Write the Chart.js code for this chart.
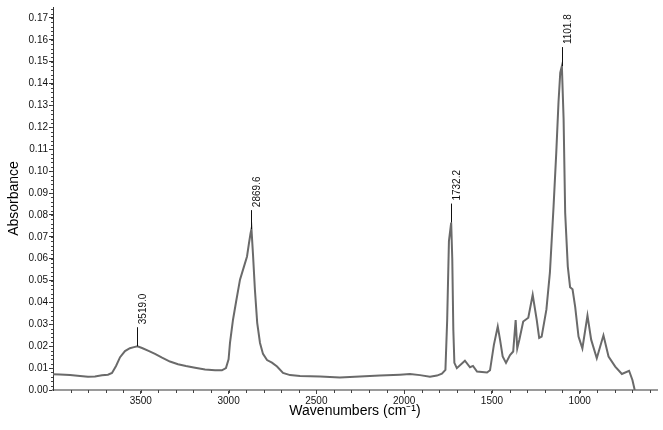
<!DOCTYPE html>
<html>
<head>
<meta charset="utf-8">
<script src="https://cdn.jsdelivr.net/npm/chart.js@4"></script>
<style>
  html, body { margin: 0; padding: 0; background: #fff; }
</style>
</head>
<body>
<canvas id="irChart" width="663" height="430"></canvas>
<script>
// FTIR spectrum, values
const wavenumbers = [
  4000, 3960, 3903, 3846, 3801, 3761, 3721, 3687, 3664, 3641, 3618, 3590, 3562,
  3539, 3519.0, 3493, 3459, 3419, 3379, 3334, 3288, 3243, 3191, 3134, 3077, 3038,
  3015, 3000, 2992, 2975, 2958, 2935, 2912, 2895, 2884, 2875, 2869.6, 2861, 2850,
  2837, 2821, 2804, 2781, 2753, 2724, 2690, 2650, 2593, 2479, 2366, 2252, 2138,
  2024, 1967, 1910, 1853, 1813, 1785, 1765, 1755, 1745, 1732.2, 1726, 1720, 1714,
  1700, 1654, 1625, 1608, 1585, 1528, 1511, 1489, 1467, 1454, 1439, 1420, 1397,
  1379, 1365, 1356, 1344, 1322, 1293, 1268, 1245, 1231, 1217, 1190, 1170, 1149,
  1134, 1121, 1111, 1101.8, 1092, 1083, 1068, 1055, 1041, 1026, 1007, 985, 956,
  935, 903, 865, 836, 798, 760, 719, 700, 687,
];
const absorbance = [
  0.0072, 0.0071, 0.0068, 0.0064, 0.0060, 0.0062, 0.0067, 0.0070, 0.0078, 0.0110,
  0.0150, 0.0178, 0.0191, 0.0196, 0.0200, 0.0192, 0.0180, 0.0165, 0.0148, 0.0130,
  0.0118, 0.0110, 0.0102, 0.0094, 0.0090, 0.0090, 0.0100, 0.0140, 0.0215, 0.0320,
  0.0400, 0.0504, 0.0565, 0.0610, 0.0670, 0.0715, 0.0735, 0.0620, 0.0458, 0.0307,
  0.0215, 0.0165, 0.0137, 0.0125, 0.0107, 0.0078, 0.0068, 0.0064, 0.0062, 0.0057,
  0.0062, 0.0066, 0.0070, 0.0073, 0.0068, 0.0061, 0.0066, 0.0075, 0.0092, 0.0320,
  0.0680, 0.0765, 0.0600, 0.0275, 0.0124, 0.0100, 0.0134, 0.0104, 0.0110, 0.0084,
  0.0080, 0.0090, 0.0206, 0.0290, 0.0230, 0.0153, 0.0124, 0.0160, 0.0176, 0.0320,
  0.0190, 0.0230, 0.0313, 0.0330, 0.0435, 0.0320, 0.0238, 0.0244, 0.0367, 0.0536,
  0.0840, 0.1080, 0.1315, 0.1450, 0.1480, 0.1240, 0.0810, 0.0564, 0.0470, 0.0460,
  0.0380, 0.0244, 0.0190, 0.0340, 0.0230, 0.0145, 0.0250, 0.0153, 0.0107, 0.0073,
  0.0088, 0.0046, 0.0000,
];
const peakLabels = [3519.0, 2869.6, 1732.2, 1101.8];
const xTicks = [3500, 3000, 2500, 2000, 1500, 1000];
const yTicks = [0, 0.01, 0.02, 0.03, 0.04, 0.05, 0.06, 0.07, 0.08, 0.09, 0.10,
  0.11, 0.12, 0.13, 0.14, 0.15, 0.16, 0.17];

const FONT = '"Liberation Sans", Arial, Helvetica, sans-serif';
Chart.defaults.font.family = FONT;

const spectrum = wavenumbers.map((w, i) => ({ x: w, y: absorbance[i] }));

// small unlabeled ticks: every 100 cm-1 on x, every 0.002 on y
const minorTicks = {
  id: "minorTicks",
  afterDraw(chart) {
    const { ctx, scales: { x, y } } = chart;
    ctx.save();
    ctx.strokeStyle = "#444";
    ctx.lineWidth = 1;
    ctx.beginPath();
    for (let v = 600; v < 4000; v += 100) {
      const px = Math.round(x.getPixelForValue(v)) + 0.5;
      ctx.moveTo(px, y.bottom);
      ctx.lineTo(px, y.bottom + 3);
    }
    for (let k = 1; k * 0.002 < 0.175; k++) {
      const py = Math.round(y.getPixelForValue(k * 0.002)) + 0.5;
      ctx.moveTo(x.left - 2, py);
      ctx.lineTo(x.left, py);
    }
    ctx.stroke();
    ctx.restore();
  },
};

// peak markers with vertical labels
const peakMarks = {
  id: "peakMarks",
  afterDatasetsDraw(chart) {
    const { ctx, scales: { x, y } } = chart;
    ctx.save();
    ctx.strokeStyle = "#111";
    ctx.fillStyle = "#111";
    ctx.lineWidth = 1;
    ctx.font = "10px " + FONT;
    peakLabels.forEach((p) => {
      const i = wavenumbers.indexOf(p);
      const px = Math.round(x.getPixelForValue(p)) + 0.5;
      const py = y.getPixelForValue(absorbance[i]);
      ctx.beginPath();
      ctx.moveTo(px, py);
      ctx.lineTo(px, py - 19);
      ctx.stroke();
      ctx.save();
      ctx.translate(px + 6, py - 22);
      ctx.rotate(-Math.PI / 2);
      ctx.textAlign = "left";
      ctx.textBaseline = "middle";
      ctx.fillText(p.toFixed(1), 0, 0);
      ctx.restore();
    });
    ctx.restore();
  },
};

new Chart(document.getElementById("irChart").getContext("2d"), {
  type: "line",
  data: {
    datasets: [
      {
        data: spectrum,
        borderColor: "#6a6a6a",
        borderWidth: 2,
        pointRadius: 0,
        tension: 0,
        fill: false,
      },
    ],
  },
  options: {
    responsive: false,
    animation: false,
    layout: { padding: { top: 7, right: 6, left: 0, bottom: 0 } },
    plugins: {
      legend: { display: false },
      tooltip: { enabled: false },
    },
    scales: {
      x: {
        type: "linear",
        reverse: true,
        min: 560,
        max: 4000,
        afterBuildTicks: (s) => { s.ticks = xTicks.map((v) => ({ value: v })); },
        afterFit: (s) => { s.height = 40; },
        grid: { drawOnChartArea: false, tickLength: 4, tickColor: "#444" },
        border: { color: "#9a9a9a", width: 2 },
        ticks: {
          color: "#111",
          font: { size: 10 },
          padding: 1,
          maxRotation: 0,
          autoSkip: false,
          callback: (v) => String(v),
        },
        title: {
          display: true,
          text: "Wavenumbers (cm⁻¹)",
          color: "#000",
          font: { size: 14 },
          padding: { top: 0, bottom: 10 },
        },
      },
      y: {
        min: 0,
        max: 0.175,
        afterBuildTicks: (s) => { s.ticks = yTicks.map((v) => ({ value: v })); },
        afterFit: (s) => { s.width = 53; },
        grid: { drawOnChartArea: false, tickLength: 4, tickColor: "#333" },
        border: { color: "#333", width: 1 },
        ticks: {
          color: "#111",
          font: { size: 10 },
          padding: 1,
          callback: (v) => v.toFixed(2),
        },
        title: {
          display: true,
          text: "Absorbance",
          color: "#000",
          font: { size: 14 },
          padding: { top: 6, bottom: 0 },
        },
      },
    },
  },
  plugins: [minorTicks, peakMarks],
});
</script>
</body>
</html>
